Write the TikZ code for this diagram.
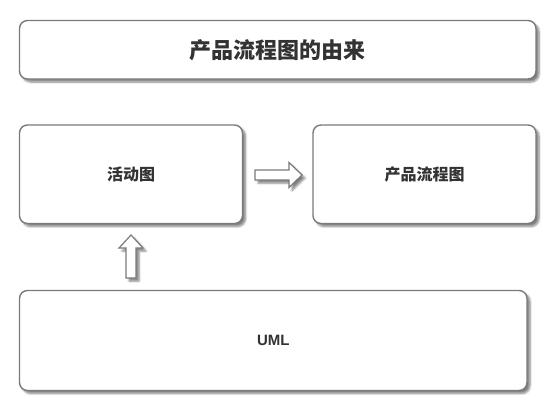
\documentclass[tikz,border=0pt]{standalone}
\usepackage{fontspec}
\setmainfont{Liberation Sans}
\newfontfamily\cjk{Noto Sans CJK SC}
\usetikzlibrary{shadows.blur,calc}
\definecolor{edge}{HTML}{7A7A7A}
\definecolor{txt}{HTML}{333333}
\tikzset{
  box/.style={draw=edge, line width=1.4pt, rounded corners=8pt, fill=white,
    inner sep=0pt, outer sep=0pt, text=txt, font=\cjk\bfseries,
    blur shadow={shadow xshift=3pt, shadow yshift=-3pt, shadow blur steps=6, shadow opacity=50}},
  blockarrow/.style={draw=edge, line width=1.2pt, fill=white, line join=miter,
    blur shadow={shadow xshift=3pt, shadow yshift=-3pt, shadow blur steps=5, shadow opacity=50}}
}
\begin{document}
\begin{tikzpicture}[x=1pt,y=-1pt]
\useasboundingbox (0,0) rectangle (553,412);
\node[box, minimum width=516.5pt, minimum height=58.5pt, font=\cjk\bfseries\fontsize{22}{26}\selectfont] (title) at (277.75,49.75) {产品流程图的由来};
\node[box, minimum width=223pt, minimum height=98.5pt, font=\cjk\bfseries\fontsize{16}{19}\selectfont] (act) at (131,174.25) {活动图};
\node[box, minimum width=223pt, minimum height=98.5pt, font=\cjk\bfseries\fontsize{16}{19}\selectfont] (prod) at (424.5,174.25) {产品流程图};
\node[box, minimum width=507.5pt, minimum height=100pt, font=\bfseries\fontsize{15}{18}\selectfont] (uml) at (273.25,340.5) {UML};
% horizontal block arrow from act to prod
\coordinate (ht) at ($(act.east)+(12.5,0.75)$);
\coordinate (hh) at ($(prod.west)+(-11,0.75)$);
\draw[blockarrow] ($(ht)+(0,-5)$) -- ($(hh)+(-13,-5)$) -- ($(hh)+(-13,-12.5)$) -- (hh)
  -- ($(hh)+(-13,12.5)$) -- ($(hh)+(-13,5)$) -- ($(ht)+(0,5)$) -- cycle;
% vertical block arrow from uml to act
\coordinate (vt) at ($(uml.north west)+(111.5,-12.5)$);
\coordinate (vh) at ($(act.south)+(0,11.5)$);
\draw[blockarrow] ($(vt)+(-5,0)$) -- ($(vh)+(-5,13)$) -- ($(vh)+(-12,13)$) -- (vh)
  -- ($(vh)+(12,13)$) -- ($(vh)+(5,13)$) -- ($(vt)+(5,0)$) -- cycle;
\end{tikzpicture}
\end{document}
